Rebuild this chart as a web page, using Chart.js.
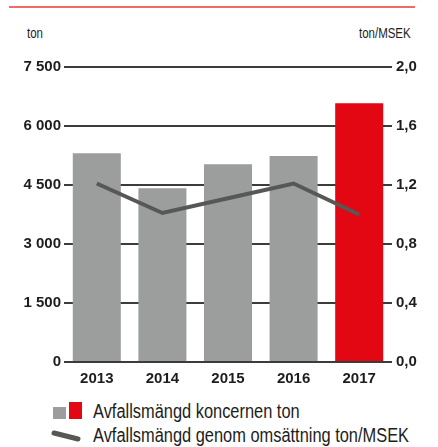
<!DOCTYPE html>
<html>
<head>
<meta charset="utf-8">
<script src="https://cdn.jsdelivr.net/npm/chart.js@4/dist/chart.umd.min.js"></script>
<style>
  html, body { margin: 0; padding: 0; background: #fff; }
  body { width: 438px; height: 447px; position: relative; overflow: hidden;
         font-family: "Liberation Sans", Arial, sans-serif; color: #1d1d1b; }
  #topline { position: absolute; left: 9px; top: 6px; width: 406px; height: 2px; background: #ef6b6b; }
  .unit { position: absolute; font-size: 14px; line-height: 14px; top: 26px; color: #1d1d1b;
          transform: scaleX(0.82); transform-origin: 0 0; white-space: nowrap; }
  #c { position: absolute; left: 0; top: 0; }
  .lg { position: absolute; font-size: 20px; line-height: 20px; left: 93px; white-space: nowrap; color: #1d1d1b;
        transform: scaleX(0.82); transform-origin: 0 0; }
  .sw { position: absolute; }
</style>
</head>
<body>
<div id="topline"></div>
<div class="unit" style="left:27px;">ton</div>
<div class="unit" style="left:359px;">ton/MSEK</div>
<canvas id="c" width="438" height="400"></canvas>
<div class="sw" style="left:53px;top:407px;width:13px;height:12px;background:#9d9d9f;"></div>
<div class="sw" style="left:69px;top:402px;width:13px;height:17px;background:#e30613;"></div>
<div class="lg" style="top:401px;">Avfallsmängd koncernen ton</div>
<svg class="sw" style="left:48px;top:426px;" width="38" height="20"><line x1="6" y1="7" x2="30" y2="13" stroke="#575756" stroke-width="5" stroke-linecap="round"/></svg>
<div class="lg" style="top:425px;">Avfallsmängd genom omsättning ton/MSEK</div>
<script>
const years = ["2013", "2014", "2015", "2016", "2017"];
const wasteTon = [5310, 4420, 5030, 5240, 6580];
const wastePerRevenue = [1.21, 1.01, 1.11, 1.21, 1.00];
const leftTicks = [0, 1500, 3000, 4500, 6000, 7500];
const rightTicks = [0, 0.4, 0.8, 1.2, 1.6, 2.0];
const barColors = ["#9c9d9d", "#9c9d9d", "#9c9d9d", "#9c9d9d", "#e30613"];

const tickFont = { family: '"Liberation Sans", Arial, sans-serif', size: 15, weight: 'bold' };

new Chart(document.getElementById('c'), {
  data: {
    labels: years,
    datasets: [
      { type: 'line', label: 'Avfallsmängd genom omsättning ton/MSEK', data: wastePerRevenue, yAxisID: 'y1',
        borderColor: '#575756', borderWidth: 4, pointRadius: 0, tension: 0, order: 0, fill: false },
      { type: 'bar', label: 'Avfallsmängd koncernen ton', data: wasteTon, yAxisID: 'y',
        backgroundColor: barColors, borderWidth: 0, barPercentage: 0.732, categoryPercentage: 1.0, order: 1 }
    ]
  },
  options: {
    responsive: false,
    animation: false,
    layout: { padding: { top: 67, left: 0, right: 0, bottom: 0 } },
    plugins: { legend: { display: false }, tooltip: { enabled: false } },
    scales: {
      x: {
        grid: { display: false, drawTicks: false },
        border: { display: false },
        ticks: { color: '#1d1d1b', font: tickFont, padding: 8, maxRotation: 0 },
        afterFit: s => { s.height = 38; }
      },
      y: {
        position: 'left', min: 0, max: 7500,
        afterBuildTicks: s => { s.ticks = leftTicks.map(v => ({ value: v })); },
        grid: { color: '#3c3c3b', lineWidth: 2, drawTicks: false },
        border: { display: false },
        ticks: { color: '#1d1d1b', font: tickFont, padding: 3,
                 callback: v => String(v).replace(/\B(?=(\d{3})+(?!\d))/g, ' ') },
        afterFit: s => { s.width = 64; }
      },
      y1: {
        position: 'right', min: 0, max: 2.0,
        afterBuildTicks: s => { s.ticks = rightTicks.map(v => ({ value: v })); },
        grid: { display: false, drawTicks: false },
        border: { display: false },
        ticks: { color: '#1d1d1b', font: tickFont, padding: 4,
                 callback: v => Number(v).toFixed(1).replace('.', ',') },
        afterFit: s => { s.width = 46; }
      }
    }
  }
});
</script>
</body>
</html>
